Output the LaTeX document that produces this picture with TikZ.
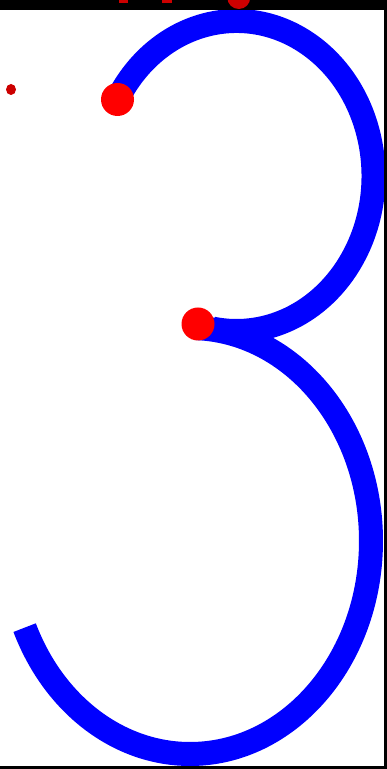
\documentclass[tikz,border=0pt]{standalone}
\usepackage{xcolor}
\usepackage{tikz}
\usetikzlibrary{positioning, calc}
\definecolor{darkred}{RGB}{204,0,0}

\begin{document}
\begin{tikzpicture}[x=1pt, y=1pt,
    stroke/.style={draw=blue, line width=24pt},
    dot/.style={fill=red}]
    \useasboundingbox (0,0) rectangle (387,769);
    \clip (0,0) rectangle (387,769);

    % Centres of the two bowls
    \coordinate (upc) at (236.5,593);
    \coordinate (lowc) at (190,228);
    \coordinate (upstart) at (117.5,669.5);
    \coordinate (middot) at (198,445);

    % Upper bowl
    \draw[stroke] ($(upc)+(150:137 and 155)$) arc[start angle=150, end angle=-100, x radius=137, y radius=155];

    % Lower bowl
    \draw[stroke] ($(lowc)+(88:181 and 213)$) arc[start angle=88, end angle=-156, x radius=181, y radius=213];

    % Frame
    \fill[black] (0,759) rectangle (387,769);
    \fill[black] (384,0) rectangle (387,769);
    \fill[black] (0,0) rectangle (387,3);

    % Clipped marks at the top
    \fill[darkred] (119,766.3) rectangle (128.3,769);
    \fill[darkred] (162,766.3) rectangle (171.7,769);
    \fill[darkred] (238.8,771.5) circle[radius=11.5];
    \fill[darkred] (11,679.5) ellipse[x radius=5, y radius=5.5];

    % End dots
    \fill[dot] (upstart) circle[radius=16.5];
    \fill[dot] (middot) circle[radius=16.5];
\end{tikzpicture}
\end{document}
